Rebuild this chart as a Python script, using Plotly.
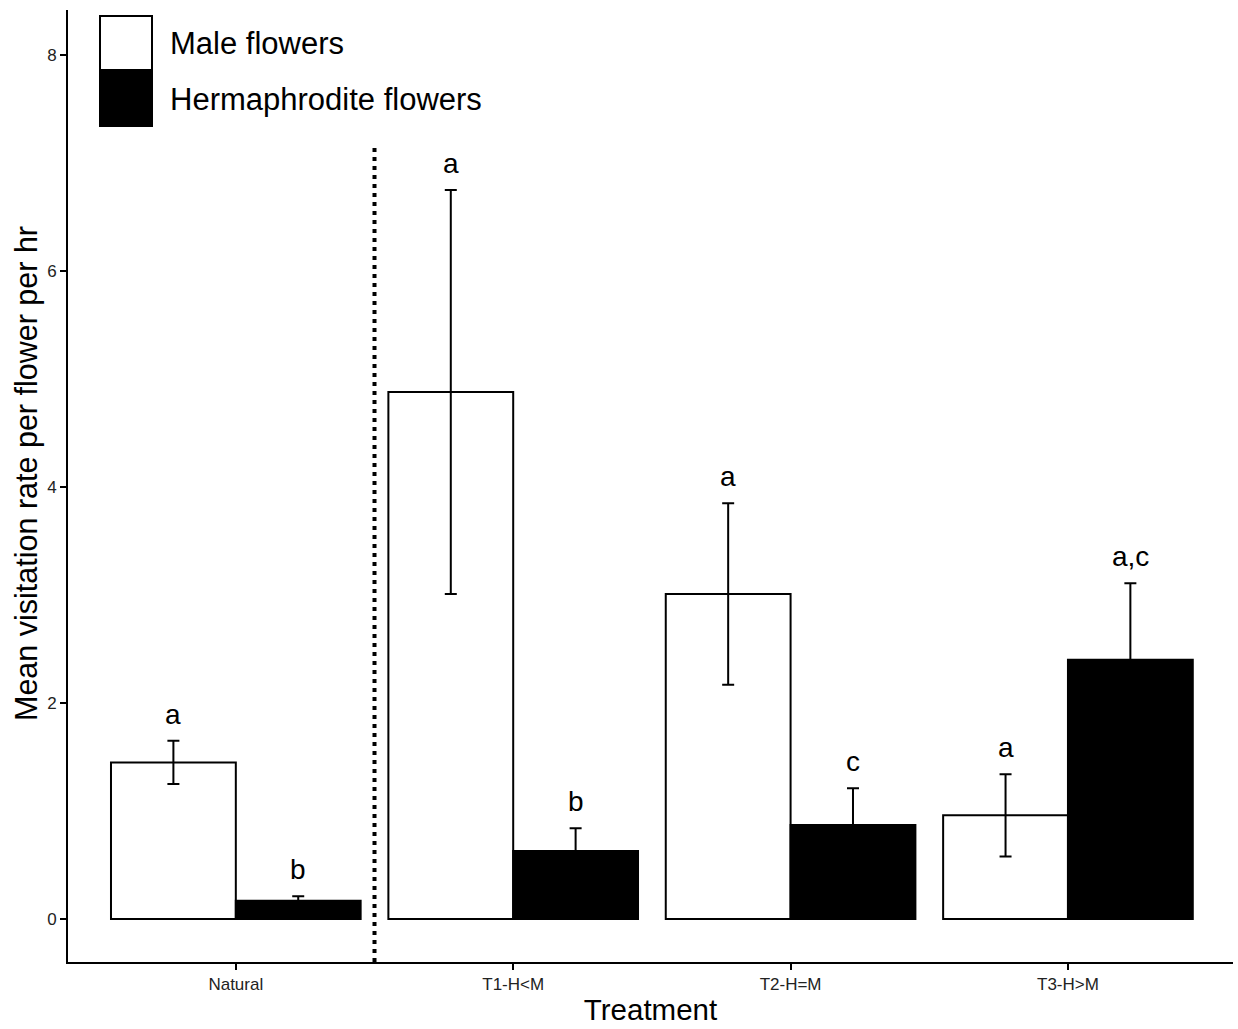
import plotly.graph_objects as go

categories = ["Natural", "T1-H<M", "T2-H=M", "T3-H>M"]
male_mean = [1.45, 4.88, 3.01, 0.96]
male_se = [0.20, 1.87, 0.84, 0.38]
herm_mean = [0.17, 0.63, 0.87, 2.40]
herm_se = [0.04, 0.21, 0.34, 0.71]
male_letters = ["a", "a", "a", "a"]
herm_letters = ["b", "b", "c", "a,c"]
series_names = ["Male flowers", "Hermaphrodite flowers"]
y_ticks = [0, 2, 4, 6, 8]

FONT = "Liberation Sans, Arial, sans-serif"
BARGAP = 0.1

fig = go.Figure()
fig.add_trace(go.Bar(
    x=categories, y=male_mean, name=series_names[0],
    marker=dict(color="white", line=dict(color="black", width=2)),
    error_y=dict(type="data", array=male_se, color="black", thickness=2, width=6),
    showlegend=False,
))
fig.add_trace(go.Bar(
    x=categories, y=herm_mean, name=series_names[1],
    marker=dict(color="black", line=dict(color="black", width=2)),
    error_y=dict(type="data", array=herm_se, color="black", thickness=2, width=6),
    showlegend=False,
))

# significance letters above error bars
off = (1 - BARGAP) / 4
for i, c in enumerate(categories):
    fig.add_annotation(x=i - off, y=male_mean[i] + male_se[i], text=male_letters[i],
                       showarrow=False, yanchor="bottom", yshift=9,
                       font=dict(family=FONT, size=28, color="black"))
    fig.add_annotation(x=i + off, y=herm_mean[i] + herm_se[i], text=herm_letters[i],
                       showarrow=False, yanchor="bottom", yshift=9,
                       font=dict(family=FONT, size=28, color="black"))

# dotted separator between Natural and treatments
fig.add_shape(type="line", xref="x", yref="paper", x0=0.5, x1=0.5, y0=0, y1=0.858,
              line=dict(color="black", width=4, dash="4px,5px"))

# custom legend
W, H = 1238, 1029
ml, mr, mt, mb = 68, 5, 10, 67
pw, ph = W - ml - mr, H - mt - mb
def px(x):
    return (x - ml) / pw
def py(y):
    return (H - mb - y) / ph
fig.add_shape(type="rect", xref="paper", yref="paper", x0=px(100), x1=px(152), y0=py(70), y1=py(16),
              fillcolor="white", line=dict(color="black", width=2))
fig.add_shape(type="rect", xref="paper", yref="paper", x0=px(100), x1=px(152), y0=py(126), y1=py(72),
              fillcolor="black", line=dict(color="black", width=2))
fig.add_annotation(xref="paper", yref="paper", x=px(168), y=py(44), text=series_names[0],
                   showarrow=False, xanchor="left", yanchor="middle",
                   font=dict(family=FONT, size=31, color="black"))
fig.add_annotation(xref="paper", yref="paper", x=px(168), y=py(99), text=series_names[1],
                   showarrow=False, xanchor="left", yanchor="middle",
                   font=dict(family=FONT, size=31, color="black"))

# y-axis title
fig.add_annotation(xref="paper", yref="paper", x=px(26), y=py(474), text="Mean visitation rate per flower per hr",
                   textangle=-90, showarrow=False, xanchor="center", yanchor="middle",
                   font=dict(family=FONT, size=30.5, color="black"))

fig.update_layout(
    width=W, height=H,
    margin=dict(l=ml, r=mr, t=mt, b=mb),
    paper_bgcolor="white", plot_bgcolor="white",
    barmode="group", bargap=BARGAP, bargroupgap=0,
    font=dict(family=FONT, color="black"),
)
fig.update_xaxes(
    type="category", range=[-0.605, 3.595],
    showline=True, linecolor="black", linewidth=2,
    ticks="outside", ticklen=6, tickwidth=1.5, tickcolor="black",
    tickfont=dict(family=FONT, size=17, color="#222"),
    title=dict(text="Treatment", font=dict(family=FONT, size=29.5, color="black"), standoff=6),
    showgrid=False, zeroline=False,
)
fig.update_yaxes(
    range=[-0.398, 8.417], tickvals=y_ticks,
    showline=True, linecolor="black", linewidth=2,
    ticks="outside", ticklen=6, tickwidth=1.5, tickcolor="black",
    tickfont=dict(family=FONT, size=17, color="#222"),
    showgrid=False, zeroline=False,
)

fig.write_html("out.html")
